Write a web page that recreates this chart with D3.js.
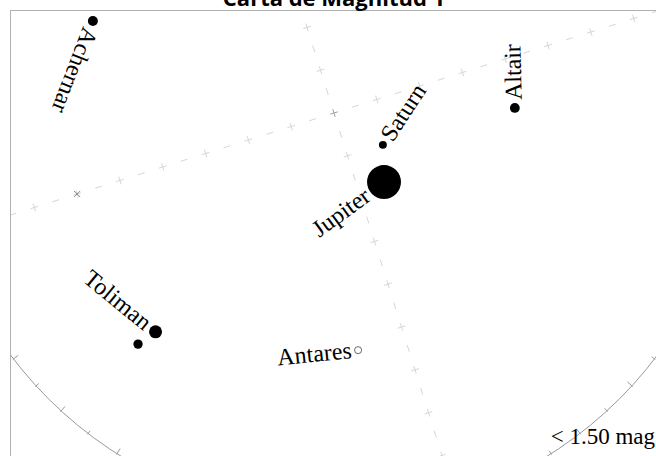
<!DOCTYPE html>
<html><head><meta charset="utf-8">
<script src="https://cdn.jsdelivr.net/npm/d3@7"></script>
<style>html,body{margin:0;padding:0;background:#fff;overflow:hidden}</style>
</head><body>
<svg id="chart" width="656" height="456"></svg>
<script>
// ---- data ----
const chartTitle = "Carta de Magnitud 1";
const legendText = "< 1.50 mag";
const starNames = ["Achernar", "Altair", "Saturn", "Jupiter", "Toliman", "", "Antares"];
const starAzimuth = [141.6, 344.1, 309.4, 288.4, 213.3, 212.2, 258.3];
const starAltitude = [32.5, 49.7, 77.0, 71.0, 27.1, 22.5, 36.9];
const starMagnitude = [0.30, 0.35, 0.80, -2.35, -0.27, 0.45, 1.06];
const hollowStars = ["Antares"];
const labelsBefore = ["Jupiter", "Toliman", "Antares"];
const gridAzimuths = [0, 90, 180, 270];
const poleAzimuth = [180];
const poleAltitude = [30];

// ---- layout ----
const W = 656, H = 456;
const cx = 334, cy = 113, R = 404, rot = -17.5;
const svg = d3.select("#chart");

const radius = d3.scaleLinear().domain([90, 0]).range([0, R]);
const angle = d3.scaleLinear().domain([0, 360]).range([rot, rot - 360].map(d => d * Math.PI / 180));
const size = d3.scaleSqrt().domain([0, 1]).range([0, 5.75]);
function proj(az, alt, dr = 0) {
  const r = radius(alt) + dr, a = angle(az);
  return [cx + r * Math.cos(a), cy + r * Math.sin(a)];
}

svg.append("defs").append("clipPath").attr("id", "clip")
  .append("rect").attr("x", 10).attr("y", 10).attr("width", W).attr("height", H);

const g = svg.append("g").attr("clip-path", "url(#clip)");

// frame
svg.append("rect").attr("x", 10.5).attr("y", 10.5).attr("width", W).attr("height", H)
  .attr("fill", "none").attr("stroke", "#b0b0b0").attr("stroke-width", 1);

// grid lines (meridian & prime vertical) with altitude marks
const marks = [];
gridAzimuths.forEach(az => {
  d3.range(0, 90, 5).forEach(alt => marks.push({az, alt, cross: alt % 10 === 0}));
});
const gridG = g.append("g").attr("stroke", "#d6d6d6").attr("stroke-width", 1).attr("fill", "none");
marks.forEach(m => {
  const [x, y] = proj(m.az, m.alt);
  const a = angle(m.az), ca = Math.cos(a), sa = Math.sin(a);
  if (m.cross) {
    gridG.append("path").attr("d",
      `M${x - 4 * ca},${y - 4 * sa}L${x + 4 * ca},${y + 4 * sa}M${x + 4 * sa},${y - 4 * ca}L${x - 4 * sa},${y + 4 * ca}`);
  } else {
    gridG.append("path").attr("d", `M${x - 3.5 * ca},${y - 3.5 * sa}L${x + 3.5 * ca},${y + 3.5 * sa}`);
  }
});
// zenith mark
{
  const a = angle(0), ca = Math.cos(a), sa = Math.sin(a);
  g.append("path").attr("stroke", "#a0a0a0").attr("fill", "none")
    .attr("d", `M${cx - 4 * ca},${cy - 4 * sa}L${cx + 4 * ca},${cy + 4 * sa}M${cx + 4 * sa},${cy - 4 * ca}L${cx - 4 * sa},${cy + 4 * ca}`);
}
// celestial pole mark
poleAzimuth.forEach((az, i) => {
  const [x, y] = proj(az, poleAltitude[i]);
  g.append("path").attr("stroke", "#888").attr("fill", "none")
    .attr("d", `M${x - 3},${y - 3}L${x + 3},${y + 3}M${x + 3},${y - 3}L${x - 3},${y + 3}`);
});

// horizon
g.append("circle").attr("cx", cx).attr("cy", cy).attr("r", radius(0))
  .attr("fill", "none").attr("stroke", "#999").attr("stroke-width", 1);
const tickG = g.append("g").attr("stroke", "#999").attr("stroke-width", 1);
d3.range(0, 360, 5).forEach(az => {
  const major = az % 10 === 0;
  const [x1, y1] = proj(az, 0, 1);
  const [x2, y2] = proj(az, 0, major ? -6 : -3.5);
  tickG.append("line").attr("x1", x1).attr("y1", y1).attr("x2", x2).attr("y2", y2);
});

// stars
const stars = starNames.map((n, i) => {
  const [x, y] = proj(starAzimuth[i], starAltitude[i]);
  return {name: n, x, y, r: size(Math.pow(10, -0.4 * starMagnitude[i])), az: starAzimuth[i]};
});
g.selectAll("circle.star").data(stars).join("circle").attr("class", "star")
  .attr("cx", d => d.x).attr("cy", d => d.y).attr("r", d => d.r)
  .attr("fill", d => hollowStars.includes(d.name) ? "#fff" : "#000")
  .attr("stroke", d => hollowStars.includes(d.name) ? "#444" : "none")
  .attr("stroke-width", 0.8);

// labels: baseline tangent to altitude circle, text top toward zenith
stars.filter(d => d.name).forEach(d => {
  const scr = Math.atan2(d.y - cy, d.x - cx);
  const rotDeg = scr * 180 / Math.PI - 90;
  const before = labelsBefore.includes(d.name);
  g.append("text")
    .attr("transform", `translate(${d.x},${d.y}) rotate(${rotDeg})`)
    .attr("x", before ? -(d.r + 3) : d.r + 3)
    .attr("dy", "0.3em")
    .attr("text-anchor", before ? "end" : "start")
    .attr("font-family", "'Liberation Serif', 'Times New Roman', serif")
    .attr("font-size", 24)
    .attr("fill", "#000")
    .text(d.name);
});

// legend
svg.append("text").attr("x", 655).attr("y", 444).attr("text-anchor", "end")
  .attr("font-family", "'Liberation Serif', 'Times New Roman', serif")
  .attr("font-size", 23).attr("fill", "#000").text(legendText);

// title
svg.append("text").attr("x", cx).attr("y", 6).attr("text-anchor", "middle")
  .attr("font-family", "'Open Sans', sans-serif").attr("font-weight", "bold")
  .attr("font-size", 22).attr("fill", "#000").text(chartTitle);
</script>
</body></html>
